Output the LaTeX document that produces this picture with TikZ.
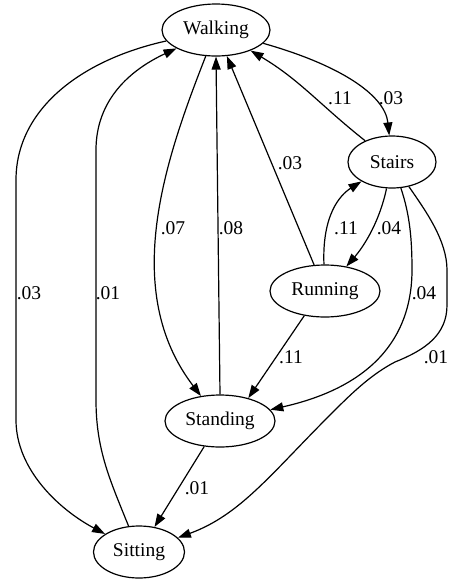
\documentclass[tikz,border=0pt]{standalone}
\usepackage{fontspec}
\setmainfont{Liberation Serif}
\usetikzlibrary{shapes.geometric,arrows.meta}

\begin{document}
\begin{tikzpicture}[x=1pt, y=-1pt, line width=1.2pt, >={Triangle[length=13pt,width=9pt]}]
    \tikzstyle{every node}=[font=\fontsize{19.5}{22}\selectfont, inner sep=0pt]
    \tikzstyle{state}=[ellipse, draw, minimum height=52pt]
    \tikzstyle{prob}=[fill=none]
    \useasboundingbox (0,0) rectangle (448,579);
    \node [state, minimum width=108pt] (walking) at (216,30) {Walking};
    \node [state, minimum width=88pt] (stairs) at (392,162) {Stairs};
    \node [state, minimum width=110pt] (running) at (325,291) {Running};
    \node [state, minimum width=110pt] (standing) at (220,421) {Standing};
    \node [state, minimum width=91pt] (sitting) at (139,552) {Sitting};
    \draw [->] (walking) .. controls (340,65) and (385,95) .. (stairs);
    \draw [->] (stairs) .. controls (320,105) and (300,80) .. (walking);
    \draw [->] (running) -- (walking);
    \draw [->] (walking) .. controls (165,160) and (120,290) .. (standing);
    \draw [->] (standing.north) -- (walking.south);
    \draw [->] (walking) .. controls (80,60) and (16,110) .. (16,180) -- (16,420) .. controls (16,470) and (60,510) .. (sitting);
    \draw [->] (sitting) .. controls (110,480) and (96,450) .. (96,400) -- (96,150) .. controls (96,100) and (130,70) .. (walking);
    \draw [->] (running) .. controls (322,215) and (340,195) .. (stairs);
    \draw [->] (stairs) .. controls (380,220) and (365,245) .. (running);
    \draw [->] (running.230) -- (standing.39);
    \draw [->] (stairs) .. controls (410,215) and (412,240) .. (412,270) .. controls (412,330) and (380,385) .. (standing);
    \draw [->] (stairs) .. controls (425,210) and (447,240) .. (447,270) -- (447,305) .. controls (447,335) and (425,350) .. (395,362) .. controls (370,375) and (350,395) .. (330,415) .. controls (270,475) and (240,515) .. (sitting);
    \draw [->] (standing) -- (sitting);
    \node [prob] (p1) at (391,98) {.03};
    \node [prob] (p2) at (340,98) {.11};
    \node [prob] (p3) at (290,163) {.03};
    \node [prob] (p4) at (173,228) {.07};
    \node [prob] (p5) at (231,228) {.08};
    \node [prob] (p6) at (29,293) {.03};
    \node [prob] (p7) at (108,293) {.01};
    \node [prob] (p8) at (346,228) {.11};
    \node [prob] (p9) at (389,228) {.04};
    \node [prob] (p10) at (424,293) {.04};
    \node [prob] (p11) at (291,357) {.11};
    \node [prob] (p12) at (436,357) {.01};
    \node [prob] (p13) at (197,488) {.01};
\end{tikzpicture}
\end{document}
